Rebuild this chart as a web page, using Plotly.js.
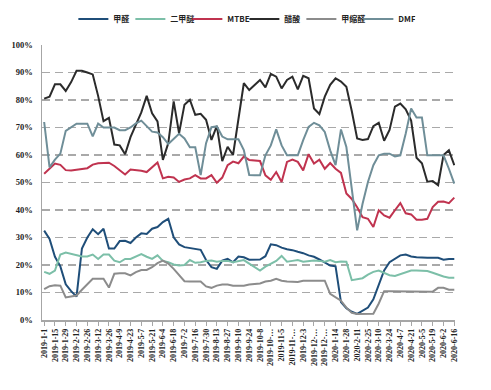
<!DOCTYPE html>
<html>
<head>
<meta charset="utf-8">
<script src="https://cdn.plot.ly/plotly-3.0.1.min.js"></script>
<style>
html,body{margin:0;padding:0;background:#fff;}
#chart{width:491px;height:390px;}
</style>
</head>
<body>
<div id="chart"></div>
<script>
// Weekly categories
const dates = [
"2019-1-1","2019-1-8","2019-1-15","2019-1-22","2019-1-29","2019-2-5","2019-2-12","2019-2-19","2019-2-26","2019-3-5",
"2019-3-12","2019-3-19","2019-3-26","2019-4-2","2019-4-9","2019-4-16","2019-4-23","2019-4-30","2019-5-7","2019-5-14",
"2019-5-21","2019-5-28","2019-6-4","2019-6-11","2019-6-18","2019-6-25","2019-7-2","2019-7-9","2019-7-16","2019-7-23",
"2019-7-30","2019-8-6","2019-8-13","2019-8-20","2019-8-27","2019-9-3","2019-9-10","2019-9-17","2019-9-24","2019-10-1",
"2019-10-8","2019-10-15","2019-10-22","2019-10-29","2019-11-5","2019-11-12","2019-11-19","2019-11-26","2019-12-3","2019-12-10",
"2019-12-17","2019-12-24","2019-12-31","2020-1-7","2020-1-14","2020-1-21","2020-1-28","2020-2-4","2020-2-11","2020-2-18",
"2020-2-25","2020-3-3","2020-3-10","2020-3-17","2020-3-24","2020-3-31","2020-4-7","2020-4-14","2020-4-21","2020-4-28",
"2020-5-5","2020-5-12","2020-5-19","2020-5-26","2020-6-2","2020-6-9","2020-6-16"
];

// Tick labels shown (every second week), as printed in the original
const tickDates = [
"2019-1-1","2019-1-15","2019-1-29","2019-2-12","2019-2-26","2019-3-12","2019-3-26","2019-4-9","2019-4-23","2019-5-7",
"2019-5-21","2019-6-4","2019-6-18","2019-7-2","2019-7-16","2019-7-30","2019-8-13","2019-8-27","2019-9-10","2019-9-24",
"2019-10-8","2019-10-22","2019-11-5","2019-11-19","2019-12-3","2019-12-17","2019-12-31","2020-1-14","2020-1-28","2020-2-11",
"2020-2-25","2020-3-10","2020-3-24","2020-4-7","2020-4-21","2020-5-5","2020-5-19","2020-6-2","2020-6-16"
];
const tickLabels = [
"2019-1-1","2019-1-15","2019-1-29","2019-2-12","2019-2-26","2019-3-12","2019-3-26","2019-4-9","2019-4-23","2019-5-7",
"2019-5-21","2019-6-4","2019-6-18","2019-7-2","2019-7-16","2019-7-30","2019-8-13","2019-8-27","2019-9-10","2019-9-24",
"2019-10-8","2019-10-…","2019-11-5","2019-11-…","2019-12-3","2019-12-…","2019-12-…","2020-1-14","2020-1-28","2020-2-11",
"2020-2-25","2020-3-10","2020-3-24","2020-4-7","2020-4-21","2020-5-5","2020-5-19","2020-6-2","2020-6-16"
];

// Y-axis ticks
const yTickVals = [0,10,20,30,40,50,60,70,80,90,100];
const yTickText = ["0%","10%","20%","30%","40%","50%","60%","70%","80%","90%","100%"];

// Series values (%)
const formaldehyde = [32.5,29.5,23,19.5,13,10.5,8.5,26,30,33,31.2,33.2,26,26,28.7,28.8,28,30,31.5,31.3,
33.2,33.8,35.6,36.8,30.1,27.5,26.5,26.2,25.9,25.5,21.8,19.2,18.6,21.6,22.2,21,23.1,22.8,21.9,21.9,
22,23.2,27.5,27.2,26.3,25.7,25.4,24.8,24.3,23.5,23,22,21,19.8,19.5,6.5,4.3,3,2.2,3.5,
4.5,7.5,13,18,21,22.2,23.5,23.8,23.1,22.8,22.6,22.6,22.6,22.6,21.9,22.2,22.2];

const dme = [17.5,16.8,18,23.8,24.5,24,23.5,23.1,23.1,23.8,22.2,23.8,23.8,21.6,21,22.2,22.2,23.1,24,23,
22.2,23.5,21.5,21,20.2,19.8,20,21.8,20.8,21,21.5,21.6,21.2,21.5,21.5,21,21.5,21.8,20.5,19.2,
18,19.4,20.6,21.5,23.3,21.2,21.5,21.8,21.2,21.4,21.6,21.5,21.2,21.8,21,21.3,21.2,14.5,14.8,15.2,
16.5,17.5,18,17.2,16.3,16,16.6,17.2,18,18,18,17.8,17.2,16.4,15.8,15.4,15.4];

const mtbe = [53.2,55,56.9,56.4,54.5,54.4,54.6,54.8,55.2,56.5,57,57.1,57.2,56,54.5,52.9,54.7,54.6,54.3,53.8,
55.5,57.3,51.5,52.1,51.8,50.2,51.1,51.5,52.7,51.5,51.5,52.7,49.9,51.8,56.3,57.6,57,59.4,58.2,58.1,
57.8,52.6,51,53.8,50.2,57.5,58.3,57.5,54.4,60.3,56.9,58.3,55,57.1,55,53.5,46,44,41,37.4,
36.8,33.8,39.9,38,37.2,39.9,42.5,38.8,38.4,36.5,36.5,36.8,41.1,43,43.1,42.5,44.5];

const aceticAcid = [80.5,81.2,85.7,85.7,83.3,86.5,90.6,90.6,90,89.3,81.5,72.3,73.5,63.8,63.5,60.3,66.5,71,75.5,81.5,
75.2,72.2,58.2,64.3,79.5,67.9,78.3,80.1,74.6,75,72.8,65.5,70.6,57.8,63,60,73,86.1,83.6,85.5,
87.3,84.6,89.5,88.5,84.2,87.3,88.5,83.9,88.8,87.9,76.9,74.9,81.2,85.5,87.9,86.7,84.8,76,66,65.5,
65.8,70.5,71.7,65.2,69.1,77.6,78.7,76.6,72.5,59,57,50.3,50.5,49,60,61.7,56.3];

const methylal = [11.2,12.3,12.6,12.5,8.2,8.5,8.9,11,13,15,15,15,11.8,16.8,17,17,16.2,17.4,18.2,18.2,
19.2,20.7,21.6,20.5,18.6,16.2,14.1,14,14,14,12.2,11.7,12.5,12.9,12.9,12.5,12.5,12.5,12.9,13.2,
13.3,14,14.3,15,14.3,14,14,13.8,14.3,14.3,14.3,14.3,14.3,9.5,8.3,7,4.5,2.6,2.2,2.2,
2.2,2.3,6,10.5,10.5,10.5,10.5,10.5,10.5,10.3,10.3,10.3,10.3,11.7,11.7,11,11];

const dmf = [72,55.5,58.3,60.5,68.8,70,71.4,71.4,71.4,66.8,71.4,70,70,70,69,69,70,71.5,72.5,70.5,
68.5,68.2,66.5,64,66,67.7,66,62.8,62.8,52.7,64.3,70.1,70.4,66.7,65.7,65.7,65.7,61.8,52.7,52.6,
52.6,59.9,63.5,69.3,63.5,59.9,59.9,59.9,65.4,70.2,71.7,70.8,68.4,61.7,56.3,69.3,62.9,47.1,32.6,42.3,
50.2,56.3,59.9,60.5,60.5,59.5,59.9,67.8,76.9,73.6,73.6,59.9,59.9,59.9,59.9,55,49.6];

const seriesNames = ["甲醛","二甲醚","MTBE","醋酸","甲缩醛","DMF"];
const seriesData = [formaldehyde, dme, mtbe, aceticAcid, methylal, dmf];
const seriesColors = ["#1f4e79","#7cbfa8","#c0334f","#2b2b2b","#8c8c8c","#6f8e98"];

const traces = seriesNames.map((name, k) => ({
  type: "scatter",
  mode: "lines",
  name: name,
  x: dates,
  y: seriesData[k],
  line: {color: seriesColors[k], width: 2},
  hoverinfo: "skip"
}));

const layout = {
  width: 491,
  height: 390,
  margin: {l: 42, r: 36, t: 45, b: 70, pad: 0, autoexpand: false},
  paper_bgcolor: "#ffffff",
  plot_bgcolor: "#ffffff",
  showlegend: true,
  legend: {
    orientation: "h",
    x: 0.49, xanchor: "center",
    y: 1.095, yanchor: "middle",
    font: {family: "Noto Sans CJK SC, Liberation Sans", size: 8, color: "#222", weight: "bold"},
    itemwidth: 30,
    entrywidth: 12,
    tracegroupgap: 0,
    bgcolor: "rgba(0,0,0,0)"
  },
  xaxis: {
    type: "category",
    range: [-0.4, 76.13],
    tickmode: "array",
    tickvals: tickDates,
    ticktext: tickLabels,
    tickangle: -90,
    tickfont: {family: "Liberation Serif", size: 8, color: "#222", weight: "bold"},
    showgrid: false,
    showline: true,
    linecolor: "#a6a6a6",
    linewidth: 1.5,
    ticks: "outside",
    ticklen: 4,
    tickcolor: "#a6a6a6",
    zeroline: false,
    fixedrange: true
  },
  yaxis: {
    range: [0, 100],
    tickmode: "array",
    tickvals: yTickVals,
    ticktext: yTickText,
    tickfont: {family: "Liberation Serif", size: 8.5, color: "#222", weight: "bold"},
    showgrid: true,
    gridcolor: "#a9a9a9",
    gridwidth: 1.5,
    griddash: "8px,5px",
    showline: true,
    linecolor: "#a6a6a6",
    linewidth: 1.5,
    ticks: "",
    zeroline: false,
    ticklabelstandoff: 6,
    fixedrange: true
  }
};

Plotly.newPlot("chart", traces, layout, {displayModeBar: false, staticPlot: true});
</script>
</body>
</html>
